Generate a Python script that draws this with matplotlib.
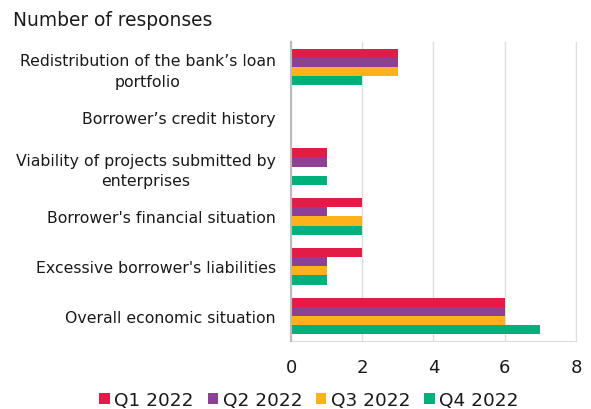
import matplotlib
matplotlib.use("Agg")
import matplotlib.pyplot as plt
import matplotlib.transforms as mtransforms
import numpy as np
from matplotlib.patches import Patch

categories = [
    "Redistribution of the bank\u2019s loan\nportfolio",
    "Borrower\u2019s credit history",
    "Viability of projects submitted by\nenterprises",
    "Borrower's financial situation",
    "Excessive borrower's liabilities",
    "Overall economic situation",
]
series = ["Q1 2022", "Q2 2022", "Q3 2022", "Q4 2022"]
q1 = [3, 0, 1, 2, 2, 6]
q2 = [3, 0, 1, 1, 1, 6]
q3 = [3, 0, 0, 2, 1, 6]
q4 = [2, 0, 1, 2, 1, 7]
colors = ["#E31C47", "#8E3F96", "#FDB11B", "#00B07A"]
xticks = [0, 2, 4, 6, 8]

plt.rcParams["font.family"] = ["DejaVu Sans"]

fig = plt.figure(figsize=(5.91, 4.10), dpi=100)
ax = fig.add_axes([0.4924, 0.166, 0.4822, 0.729])

values = [q1, q2, q3, q4]
n = len(categories)
y = np.arange(n)
bar_h = 0.185
for i, (vals, col) in enumerate(zip(values, colors)):
    offs = (i - 1.5) * bar_h
    ax.barh(y + offs, vals, height=bar_h, color=col, edgecolor="none", zorder=3)

ax.set_ylim(n - 0.5, -0.5)
ax.set_xlim(0, 8)
ax.set_xticks(xticks)
ax.set_yticks(y)
ax.set_yticklabels(categories, fontsize=11.3, ha="right",
                   multialignment="center", linespacing=1.45)
# nudge the wrapped labels up a little so both lines sit around the bar group
lift = mtransforms.ScaledTranslation(0, 3 / 72, fig.dpi_scale_trans)
for lbl in ax.get_yticklabels():
    if "\n" in lbl.get_text():
        lbl.set_transform(lbl.get_transform() + lift)
ax.tick_params(axis="x", labelsize=13, length=0, pad=12, colors="#1a1a1a")
ax.tick_params(axis="y", length=0, pad=11, colors="#1a1a1a")
ax.xaxis.grid(True, color="#dddddd", linewidth=1, zorder=0)
ax.set_axisbelow(True)

ax.spines["top"].set_visible(False)
ax.spines["left"].set_color("#bbbbbb")
ax.spines["left"].set_linewidth(1.5)
ax.spines["left"].set_zorder(4)
ax.spines["right"].set_color("#dddddd")
ax.spines["bottom"].set_color("#dddddd")

fig.text(0.022, 0.95, "Number of responses", fontsize=13.4, color="#1a1a1a",
         va="center", ha="left")

handles = [Patch(facecolor=c, edgecolor="none") for c in colors]
fig.legend(handles, series, loc="center", bbox_to_anchor=(0.523, 0.022),
           ncol=4, frameon=False, fontsize=13.3, handlelength=0.56,
           handleheight=0.56, handletextpad=0.25, columnspacing=0.75,
           labelcolor="#1a1a1a")

fig.savefig("out.png", dpi=100)
